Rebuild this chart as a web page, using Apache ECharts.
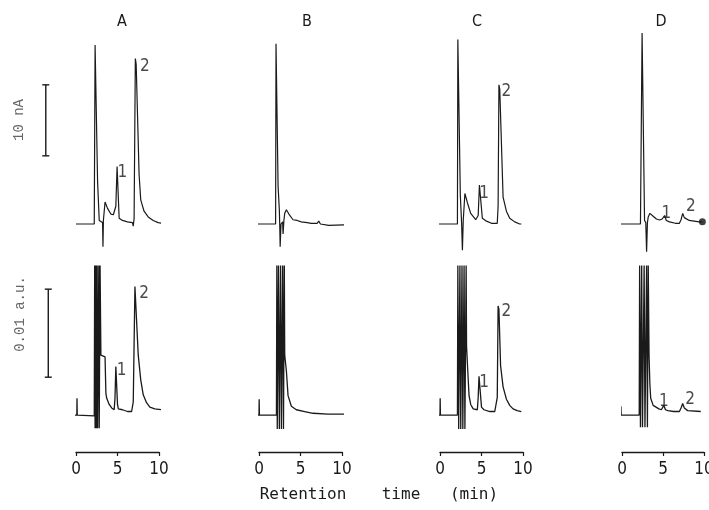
<!DOCTYPE html>
<html>
<head>
<meta charset="utf-8">
<script src="https://cdn.jsdelivr.net/npm/echarts@6/dist/echarts.min.js"></script>
<style>
  html, body { margin: 0; background: #fff; }
  #chart { width: 709px; height: 510px; }
</style>
</head>
<body>
<div id="chart"></div>
<script>
// panels and x ticks (retention time, min)
const panels = ['A', 'B', 'C', 'D'];
const xTicks = [0, 5, 10];

// top row: electrochemical detection (nA), [time, signal]
const topA = [[0,0],[2.2,0],[2.3,25.2],[2.4,25.0],[2.6,6],[2.8,0.5],[3.2,0.2],[3.25,-3.2],[3.3,0.5],[3.5,3.1],[3.8,2.2],[4.2,1.4],[4.5,1.3],[4.8,2.5],[4.95,8.1],[5.05,8.0],[5.2,0.8],[5.6,0.5],[6.2,0.3],[6.8,0.2],[6.9,-0.3],[7.0,0.8],[7.15,23.3],[7.25,22.5],[7.6,7],[7.8,3.4],[8.2,1.8],[8.7,1.0],[9.3,0.5],[9.9,0.2],[10.9,0]];
const topB = [[-0.6,0],[2.0,0],[2.05,25.4],[2.25,25.4],[2.3,5.3],[2.45,2],[2.5,-0.2],[2.55,-3.2],[2.65,0],[2.85,0.3],[2.9,-1.4],[3.0,0.5],[3.1,1.5],[3.3,2.0],[3.6,1.4],[4.1,0.6],[4.6,0.5],[5.1,0.3],[5.8,0.2],[6.3,0.1],[7.0,0.1],[7.2,0.4],[7.4,0.0],[8.4,-0.2],[10.8,-0.1]];
const topC = [[-0.4,0],[2.1,0],[2.15,26],[2.35,26],[2.45,4],[2.6,0.2],[2.7,-3.7],[2.8,0.5],[3.0,4.3],[3.3,3.0],[3.7,1.5],[4.3,0.6],[4.6,1.2],[4.75,5.5],[4.85,5.3],[5.1,0.8],[5.6,0.4],[6.2,0.1],[6.9,0.1],[7.0,2.5],[7.1,19.6],[7.2,19.0],[7.6,3.8],[8.0,1.8],[8.4,0.8],[9.0,0.3],[9.6,0],[9.8,0]];
const topD = [[-1.2,0],[2.25,0],[2.45,26.9],[2.65,26.9],[2.75,0.5],[2.9,0.2],[3.0,-3.9],[3.1,0.2],[3.2,1],[3.4,1.5],[3.8,1.1],[4.2,0.7],[4.6,0.56],[4.9,0.7],[5.2,1.2],[5.4,0.5],[5.8,0.3],[6.5,0.1],[7.0,0.1],[7.2,0.6],[7.4,1.5],[7.6,0.9],[8.2,0.5],[8.8,0.4],[9.4,0.3],[9.8,0.3]];
const topEndDot = [[9.8, 0.3]];

// bottom row: UV detection (mAU), [time, signal]
const botA = [[-0.5,0],[0.1,0],[0.12,1.9],[0.15,0],[0.2,-0.1],[2.2,-0.1],[2.25,17],[2.3,-1.5],[2.4,17],[2.45,-1.5],[2.55,17],[2.6,-1.5],[2.75,17],[2.8,-1.5],[2.9,17],[3.0,6.8],[3.2,6.8],[3.5,6.6],[3.6,2.5],[3.7,1.9],[4.0,1.2],[4.3,0.8],[4.6,0.6],[4.7,2],[4.8,5.5],[4.85,5.5],[5.0,1.2],[5.1,0.7],[5.6,0.6],[6.2,0.4],[6.7,0.4],[6.9,1.5],[7.1,14.6],[7.2,14.6],[7.5,6.8],[7.8,4],[8.1,2.3],[8.5,1.4],[8.9,0.9],[9.5,0.7],[10.3,0.6],[10.5,0.7],[10.7,0.5],[11.2,0.4]];
const botB = [[-0.3,0],[0,0],[0.02,1.8],[0.05,0],[2.1,0],[2.15,17],[2.2,-1.6],[2.35,17],[2.45,-1.6],[2.6,17],[2.7,-1.6],[2.85,17],[2.95,-1.6],[3.05,17],[3.1,6.8],[3.3,5],[3.5,2.2],[3.9,1.0],[4.5,0.6],[5.5,0.4],[6.5,0.2],[8.3,0.1],[11.2,0.1]];
const botC = [[-0.8,0],[0,0],[0.02,1.9],[0.05,0],[2.1,0],[2.15,17],[2.25,-1.6],[2.4,17],[2.5,-1.6],[2.65,17],[2.75,-1.6],[2.9,17],[3.0,-1.6],[3.15,17],[3.2,7.8],[3.4,4],[3.5,2.2],[3.7,1.2],[4.0,0.7],[4.5,0.6],[4.6,2],[4.7,4.4],[4.8,4.2],[5.0,0.9],[5.3,0.6],[6.0,0.4],[6.6,0.4],[6.9,2],[7.0,12.4],[7.1,12.0],[7.3,5.6],[7.6,3.2],[8.0,1.8],[8.4,1.1],[8.8,0.7],[9.3,0.5],[9.8,0.4]];
const botD = [[-1.2,0],[-0.15,0],[-0.13,1.0],[-0.1,0],[2.1,0],[2.15,17],[2.25,-1.4],[2.4,17],[2.5,-1.4],[2.7,17],[2.8,-1.4],[3.0,17],[3.1,-1.4],[3.2,17],[3.3,6.8],[3.4,3.5],[3.5,1.9],[3.8,1.1],[4.0,0.9],[4.5,0.7],[4.8,0.6],[5.1,1.1],[5.3,0.6],[5.6,0.5],[6.3,0.4],[7.0,0.4],[7.2,0.8],[7.4,1.3],[7.6,0.8],[8.0,0.5],[9.6,0.4]];

// peak numbers [time, signal, text]
const labelsTopA = [[5.6,7.2,'1'],[8.3,22.2,'2']];
const labelsTopC = [[5.3,4.3,'1'],[8.0,18.6,'2']];
const labelsTopD = [[5.4,1.5,'1'],[8.4,2.4,'2']];
const labelsBotA = [[5.5,5.1,'1'],[8.2,13.8,'2']];
const labelsBotC = [[5.3,3.7,'1'],[8.0,11.7,'2']];
const labelsBotD = [[5.1,1.5,'1'],[8.3,1.7,'2']];

// scale bars [time, from, to]: 10 nA and 0.01 a.u. (10 mAU)
const scaleBarTop = [[-3.64, 9.6, 19.6]];
const scaleBarBot = [[-3.34, 4.3, 14.3]];

const topData = [topA, topB, topC, topD];
const botData = [botA, botB, botC, botD];
const topLabels = [labelsTopA, [], labelsTopC, labelsTopD];
const botLabels = [labelsBotA, [], labelsBotC, labelsBotD];

const panelLeft = [76, 259, 440, 622];
const panelWidth = [83, 83, 83, 82];
const ink = '#1a1a1a';
const narrow = '"DejaVu Sans Condensed", "Liberation Sans Narrow", "Roboto Condensed", "Open Sans", sans-serif';

const chart = echarts.init(document.getElementById('chart'), null, { renderer: 'canvas' });

let grid = [], xAxis = [], yAxis = [], series = [];

panels.forEach((p, i) => {
  // top grid (nA)
  grid.push({ left: panelLeft[i], width: panelWidth[i], top: 32.3, height: 220.1, outerBoundsMode: 'none' });
  // bottom grid (mAU)
  grid.push({ left: panelLeft[i], width: panelWidth[i], top: 265.4, height: 186.6, outerBoundsMode: 'none' });

  xAxis.push({ gridIndex: 2 * i, type: 'value', min: 0, max: 10, interval: 5, show: false });
  xAxis.push({
    gridIndex: 2 * i + 1, type: 'value', min: 0, max: 10, interval: 5,
    axisLine: { show: true, onZero: false, lineStyle: { color: ink, width: 1.3 } },
    axisTick: { show: true, length: 4, lineStyle: { color: ink, width: 1.2 } },
    axisLabel: { margin: 9, color: ink, fontSize: 17, fontFamily: narrow },
    splitLine: { show: false }
  });
  yAxis.push({ gridIndex: 2 * i, type: 'value', min: -4, max: 27, show: false });
  yAxis.push({ gridIndex: 2 * i + 1, type: 'value', min: -4.2, max: 17, show: false });

  series.push({
    type: 'line', xAxisIndex: 2 * i, yAxisIndex: 2 * i, data: topData[i],
    symbol: 'none', clip: false, lineStyle: { color: ink, width: 1.2 }
  });
  series.push({
    type: 'line', xAxisIndex: 2 * i + 1, yAxisIndex: 2 * i + 1, data: botData[i],
    symbol: 'none', clip: false, lineStyle: { color: ink, width: 1.3 }
  });

  const lbl = (data, ai) => ({
    type: 'scatter', xAxisIndex: ai, yAxisIndex: ai, data: data, symbolSize: 0, clip: false,
    label: {
      show: true, position: [0, 0], align: 'center', verticalAlign: 'middle',
      formatter: d => d.value[2], color: ink, fontSize: 17, fontFamily: narrow
    }
  });
  if (topLabels[i].length) series.push(lbl(topLabels[i], 2 * i));
  if (botLabels[i].length) series.push(lbl(botLabels[i], 2 * i + 1));
});

// end dot of trace D (top)
series.push({
  type: 'scatter', xAxisIndex: 6, yAxisIndex: 6, data: topEndDot, symbolSize: 7,
  clip: false, itemStyle: { color: '#111' }
});

// scale bars
const bar = (data, ai) => ({
  type: 'custom', xAxisIndex: ai, yAxisIndex: ai, data: data, clip: false,
  encode: { x: 0, y: [1, 2] },
  renderItem: (params, api) => {
    const a = api.coord([api.value(0), api.value(2)]);
    const b = api.coord([api.value(0), api.value(1)]);
    const st = { stroke: ink, lineWidth: 1.4 };
    const c = 3.5;
    return {
      type: 'group', children: [
        { type: 'line', shape: { x1: a[0], y1: a[1], x2: b[0], y2: b[1] }, style: st },
        { type: 'line', shape: { x1: a[0] - c, y1: a[1], x2: a[0] + c, y2: a[1] }, style: st },
        { type: 'line', shape: { x1: b[0] - c, y1: b[1], x2: b[0] + c, y2: b[1] }, style: st }
      ]
    };
  }
});
series.push(bar(scaleBarTop, 0));
series.push(bar(scaleBarBot, 1));

const titleX = [122, 307, 477, 661];
const mono = '"Liberation Mono", "DejaVu Sans Mono", monospace';
const graphic = panels.map((p, i) => ({
  type: 'text', x: titleX[i], y: 22,
  style: { text: p, align: 'center', verticalAlign: 'middle', fill: ink, fontSize: 16, fontFamily: narrow }
})).concat([
  { type: 'text', x: 19, y: 120, rotation: Math.PI / 2,
    style: { text: '10 nA', align: 'center', verticalAlign: 'middle', fill: '#666', fontSize: 14, fontFamily: mono } },
  { type: 'text', x: 20, y: 314, rotation: Math.PI / 2,
    style: { text: '0.01 a.u.', align: 'center', verticalAlign: 'middle', fill: '#666', fontSize: 14, fontFamily: mono } },
  { type: 'text', x: 303, y: 495,
    style: { text: 'Retention', align: 'center', verticalAlign: 'middle', fill: ink, fontSize: 16, fontFamily: '"DejaVu Sans Mono", monospace' } },
  { type: 'text', x: 401, y: 495,
    style: { text: 'time', align: 'center', verticalAlign: 'middle', fill: ink, fontSize: 16, fontFamily: '"DejaVu Sans Mono", monospace' } },
  { type: 'text', x: 474, y: 495,
    style: { text: '(min)', align: 'center', verticalAlign: 'middle', fill: ink, fontSize: 16, fontFamily: '"DejaVu Sans Mono", monospace' } }
]);

chart.setOption({
  backgroundColor: '#fff',
  animation: false,
  grid: grid,
  xAxis: xAxis,
  yAxis: yAxis,
  series: series,
  graphic: graphic
});
</script>
</body>
</html>
